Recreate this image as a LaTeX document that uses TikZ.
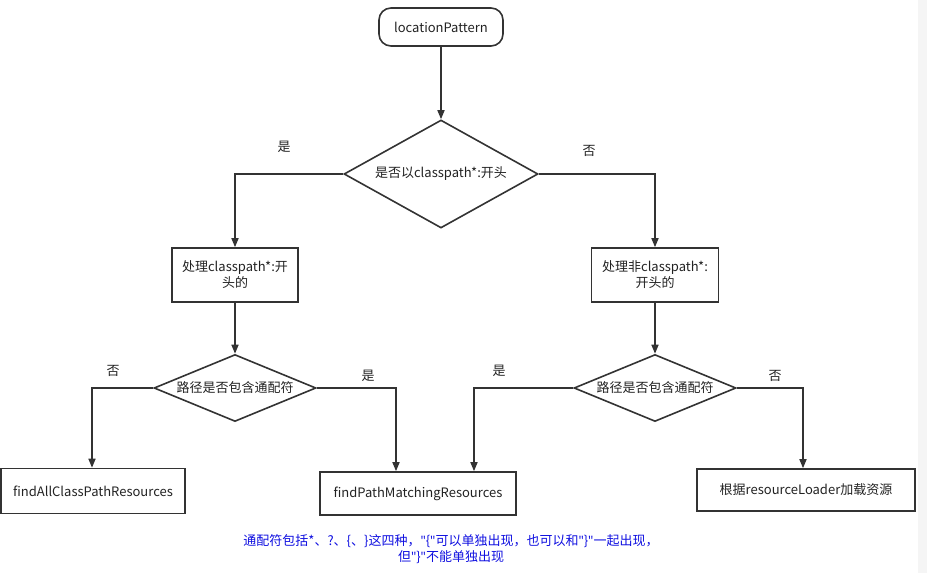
\documentclass[tikz,border=0pt]{standalone}
\usepackage{fontspec}
\setmainfont{Noto Sans CJK SC}
\newfontfamily\lat{Noto Sans}
\usetikzlibrary{shapes.geometric,arrows.meta}
\definecolor{ln}{HTML}{333333}
\definecolor{tx}{HTML}{222222}
\definecolor{note}{HTML}{1010E0}
\newcommand{\dq}{{\lat"}}
\tikzset{
  base/.style={draw=ln, line width=1.6pt, text=tx, font=\fontsize{13}{16}\selectfont, inner sep=0pt},
  startbox/.style={base, rectangle, rounded corners=12pt, minimum width=124pt, minimum height=38pt},
  procbox/.style={base, rectangle, align=center},
  decision/.style={base, diamond, aspect=1.8},
  arr/.style={draw=ln, line width=1.6pt, -{Triangle[length=9pt,width=7pt]}},
  lbl/.style={text=tx, font=\fontsize{13}{15}\selectfont, inner sep=0pt}
}
\begin{document}
\begin{tikzpicture}[x=1pt,y=-1pt]
\useasboundingbox (0,0) rectangle (927,573);
\fill[gray!8] (918,0) rectangle (927,573);
\node[startbox] (start) at (441,27) {locationPattern};
\node[decision, minimum width=194pt, minimum height=108pt] (d1) at (441,174) {是否以classpath*:开头};
\node[procbox, minimum width=126pt, minimum height=54pt, text width=120pt] (boxL) at (235,275) {处理classpath*:开\\头的};
\node[procbox, minimum width=127pt, minimum height=54pt, text width=120pt] (boxR) at (655,275) {处理非classpath*:\\开头的};
\node[decision, aspect=2.4, minimum width=162pt, minimum height=67pt] (d2L) at (235,388) {路径是否包含通配符};
\node[decision, aspect=2.4, minimum width=162pt, minimum height=67pt] (d2R) at (655,388) {路径是否包含通配符};
\node[procbox, minimum width=184pt, minimum height=45pt] (boxA) at (93,491) {findAllClassPathResources};
\node[procbox, minimum width=196pt, minimum height=43pt] (boxB) at (418,493.5) {findPathMatchingResources};
\node[procbox, minimum width=218pt, minimum height=42pt] (boxC) at (806,490) {根据resourceLoader加载资源};

\draw[arr] (start.south) -- (d1.north);
\draw[arr] (d1.west) -| (boxL.north);
\draw[arr] (d1.east) -| (boxR.north);
\draw[arr] (boxL.south) -- (d2L.north);
\draw[arr] (boxR.south) -- (d2R.north);
\draw[arr] (d2L.west) -| ([xshift=-1pt]boxA.north);
\draw[arr] (d2L.east) -| ([xshift=-22pt]boxB.north);
\draw[arr] (d2R.west) -| ([xshift=56pt]boxB.north);
\draw[arr] (d2R.east) -| ([xshift=-3pt]boxC.north);

\node[lbl] (l1) at (284,147) {是};
\node[lbl] (l2) at (589,151) {否};
\node[lbl] (l3) at (113,371) {否};
\node[lbl] (l4) at (368,376) {是};
\node[lbl] (l5) at (499,371) {是};
\node[lbl] (l6) at (775,376) {否};

\node[text=note, font=\fontsize{13}{16}\selectfont, align=center, inner sep=0pt] (note) at (451,549) {通配符包括*、?、\{、\}这四种，\dq\{\dq 可以单独出现，也可以和\dq\}\dq 一起出现，\\但\dq\}\dq 不能单独出现};
\end{tikzpicture}
\end{document}
